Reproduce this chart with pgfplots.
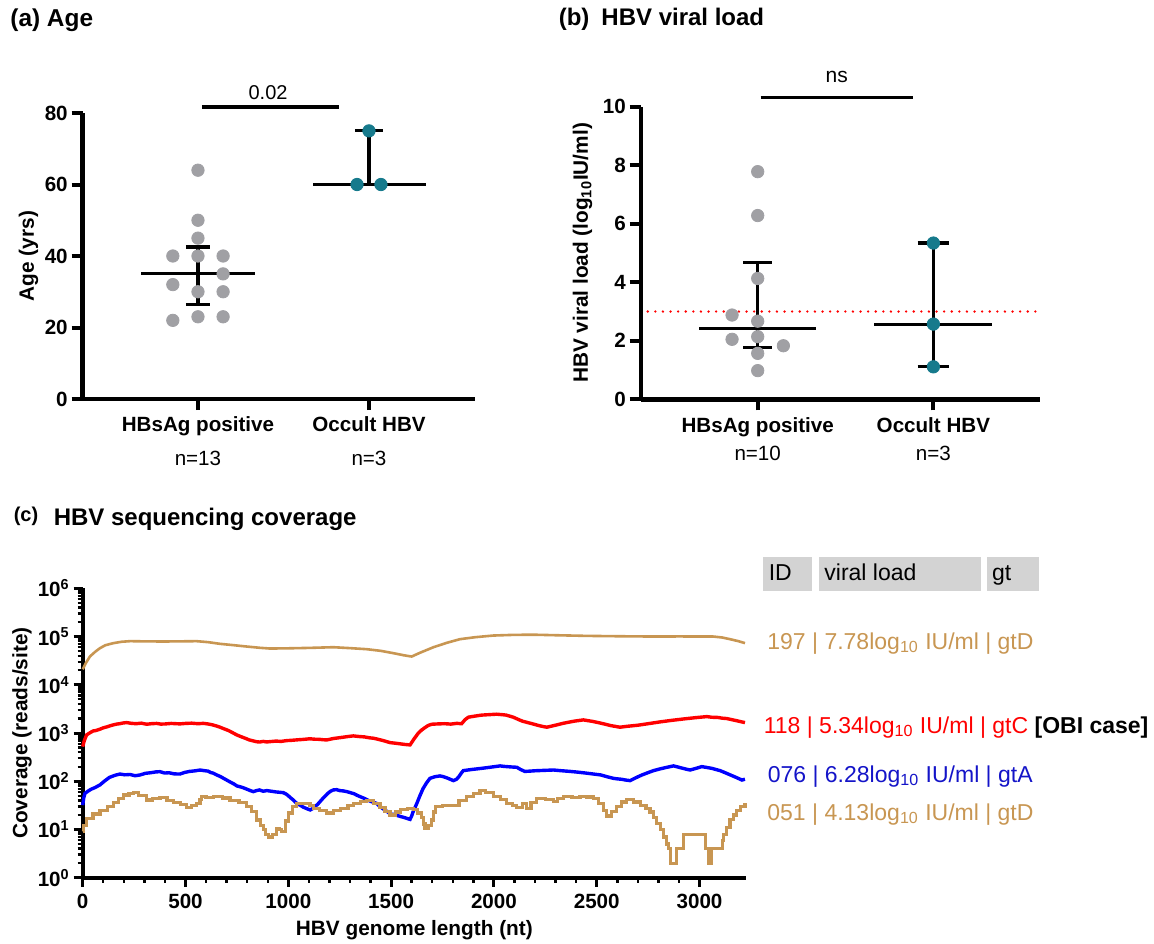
\documentclass[border=0pt]{standalone}
\usepackage{fontspec}
\setmainfont{Liberation Sans}
\usepackage{pgfplots}
\pgfplotsset{compat=1.18}

\definecolor{ctan}{RGB}{200,150,82}
\definecolor{dotgrey}{RGB}{160,160,164}
\definecolor{teal2}{RGB}{22,122,140}
\definecolor{lred}{RGB}{255,0,0}
\definecolor{lblue}{RGB}{0,0,255}
\definecolor{tblue}{RGB}{20,20,200}
\definecolor{boxgrey}{RGB}{211,211,211}

\pgfplotsset{
  gp/.style={
    scale only axis, clip=false,
    axis x line*=bottom, axis y line*=left,
    axis line style={line width=2.2pt,-},
    x axis line style={line width=2.2pt},
    y axis line style={line width=2.2pt},
    tick align=outside, major tick length=5.5pt,
    major tick style={black,line width=2pt},
    tick label style={font=\fontsize{10.3}{12.4}\selectfont\bfseries},
    yticklabel style={inner sep=1.8pt},
    /pgf/number format/assume math mode=true,
    label style={font=\fontsize{10.4}{12.4}\selectfont\bfseries,inner sep=0pt},
    xticklabel style={align=center},
  },
  med/.style={black,line width=1.6pt},
  grp1/.style={only marks,mark=*,mark size=3.1pt,color=dotgrey},
  grp2/.style={only marks,mark=*,mark size=3.1pt,color=teal2},
}

\begin{document}
\begin{tikzpicture}
\path[use as bounding box] (0,0) rectangle (577pt,471.5pt);

% titles
\node[anchor=base west,font=\fontsize{12.2}{14}\selectfont\bfseries,inner sep=0pt] at (5pt,458.2pt) {(a) Age};
\node[anchor=base west,font=\fontsize{12}{14}\selectfont\bfseries,inner sep=0pt] at (279.2pt,458.5pt) {(b)\enspace HBV viral load};
\node[anchor=base west,font=\fontsize{10}{12}\selectfont\bfseries,inner sep=0pt] at (6.7pt,211pt) {(c)};
\node[anchor=base west,font=\fontsize{12}{14}\selectfont\bfseries,inner sep=0pt] at (26.7pt,209pt) {HBV sequencing coverage};

% (a) Age
\begin{axis}[gp,
  at={(41.35pt,272pt)}, anchor=south west,
  width=196.15pt, height=143pt,
  xmin=0.326, xmax=2.62, ymin=0, ymax=80,
  ytick={0,20,40,60,80},
  xtick={1,2},
  xticklabels={{HBsAg positive\\[4.6pt]{\mdseries n=13}},{Occult HBV\\[4.6pt]{\mdseries n=3}}},
  ylabel={Age (yrs)},
  ylabel style={at={(axis description cs:-0.112,0.5)},anchor=south},
]
\addplot[grp1] coordinates {(1,64) (1,50) (1,45) (0.853,40) (1,40) (1.147,40) (1.147,35) (0.853,32) (1,30) (1.147,30) (1,23) (1.147,23) (0.853,22)};
\addplot[grp2] coordinates {(2,75) (1.93,60) (2.07,60)};
\addplot[med] coordinates {(0.667,35) (1.333,35)};
\addplot[med] coordinates {(1,26.5) (1,42.5)};
\addplot[med] coordinates {(0.93,26.5) (1.07,26.5)};
\addplot[med] coordinates {(0.93,42.5) (1.07,42.5)};
\addplot[med] coordinates {(1.673,60) (2.333,60)};
\addplot[med] coordinates {(2,60) (2,75)};
\addplot[med] coordinates {(1.918,75) (2.082,75)};
\addplot[black,line width=1.8pt] coordinates {(1.023,81.6) (1.825,81.6)};
\node[font=\fontsize{10}{12}\selectfont] at (axis cs:1.41,85.6) {0.02};
\end{axis}

% (b) viral load
\begin{axis}[gp,
  at={(320.35pt,271.85pt)}, anchor=south west,
  width=199.65pt, height=146.3pt,
  xmin=0.334, xmax=2.607, ymin=0, ymax=10,
  ytick={0,2,4,6,8,10},
  xtick={1,2},
  xticklabels={{HBsAg positive\\[1.8pt]{\mdseries n=10}},{Occult HBV\\[1.8pt]{\mdseries n=3}}},
  ylabel={HBV viral load (log\textsubscript{10}IU/ml)},
  ylabel style={at={(axis description cs:-0.12,0.5)},anchor=south},
]
\addplot[draw=lred,line width=1.3pt,line cap=round,dash pattern=on 0pt off 3.8pt] coordinates {(0.374,3) (2.607,3)};
\addplot[grp1] coordinates {(1,7.78) (1,6.28) (1,4.13) (0.854,2.88) (1,2.67) (1,2.14) (0.854,2.05) (1.146,1.83) (1,1.57) (1,0.98)};
\addplot[grp2] coordinates {(2,5.34) (2,2.57) (2,1.11)};
\addplot[med] coordinates {(0.667,2.42) (1.332,2.42)};
\addplot[med] coordinates {(1,1.77) (1,4.67)};
\addplot[med] coordinates {(0.918,1.77) (1.082,1.77)};
\addplot[med] coordinates {(0.918,4.67) (1.082,4.67)};
\addplot[med] coordinates {(1.663,2.57) (2.333,2.57)};
\addplot[med] coordinates {(2,1.11) (2,5.34)};
\addplot[med] coordinates {(1.91,1.11) (2.09,1.11)};
\addplot[med] coordinates {(1.91,5.34) (2.09,5.34)};
\addplot[black,line width=1.8pt] coordinates {(1.017,10.32) (1.886,10.32)};
\node[font=\fontsize{10.5}{12}\selectfont] at (axis cs:1.45,11.0) {ns};
\end{axis}

% (c) coverage
\begin{axis}[gp,
  at={(41.35pt,32.65pt)}, anchor=south west,
  width=331.65pt, height=144.7pt,
  axis line style={line width=1.9pt,-},
  x axis line style={line width=1.9pt},
  y axis line style={line width=1.9pt},
  major tick length=4.5pt, minor tick length=2.5pt,
  major tick style={black,line width=1.5pt},
  minor tick style={black,line width=1.2pt},
  xmin=0, xmax=3226, ymode=log, ymin=1, ymax=1000000,
  xtick={0,500,1000,1500,2000,2500,3000},
  xticklabels={0,500,1000,1500,2000,2500,3000},
  minor x tick num=4,
  ytick={1,10,100,1000,10000,100000,1000000},
  yticklabels={10\textsuperscript{0},10\textsuperscript{1},10\textsuperscript{2},10\textsuperscript{3},10\textsuperscript{4},10\textsuperscript{5},10\textsuperscript{6}},
  minor ytick={2,3,4,5,6,7,8,9,20,30,40,50,60,70,80,90,200,300,400,500,600,700,800,900,2000,3000,4000,5000,6000,7000,8000,9000,20000,30000,40000,50000,60000,70000,80000,90000,200000,300000,400000,500000,600000,700000,800000,900000},
  xlabel={HBV genome length (nt)},
  xlabel style={at={(axis description cs:0.5,-0.198)},anchor=base},
  ylabel={Coverage (reads/site)},
  ylabel style={at={(axis description cs:-0.076,0.5)},anchor=south},
]
% 197
\addplot[ctan,line width=1.3pt] coordinates {(0,21000) (15,28000) (35,38500) (60,48000) (84,57400) (110,66000) (149,73000) (190,78000) (230,80200) (300,79500) (392,78900) (470,79500) (554,80200) (610,76500) (668,70600) (730,66500) (797,62100) (860,58500) (911,56400) (1000,57000) (1105,58200) (1219,60100) (1300,57500) (1381,54700) (1450,50500) (1511,45200) (1560,41000) (1600,38500) (1640,46000) (1706,60100) (1770,74000) (1835,88200) (1910,97000) (1997,104900) (2100,108500) (2200,109000) (2300,106500) (2451,103200) (2600,101500) (2776,100000) (2900,100500) (3067,100000) (3110,95500) (3148,88200) (3190,80000) (3221,73000)};
% 118
\addplot[lred,line width=1.7pt] coordinates {(0,522) (8,700) (19,914) (35,1010) (50,1100) (66,1130) (84,1200) (100,1280) (120,1350) (135,1420) (149,1473) (165,1530) (180,1560) (195,1610) (214,1644) (235,1590) (260,1560) (285,1600) (311,1520) (335,1560) (360,1580) (380,1530) (400,1540) (430,1580) (473,1545) (500,1580) (530,1600) (560,1560) (587,1585) (610,1540) (630,1480) (650,1400) (668,1319) (690,1210) (710,1120) (730,1010) (749,914) (770,840) (790,780) (810,720) (830,686) (845,660) (860,650) (878,670) (895,653) (915,665) (940,680) (965,670) (992,696) (1015,705) (1040,720) (1070,735) (1105,760) (1125,745) (1150,740) (1170,725) (1187,719) (1220,770) (1250,800) (1285,840) (1316,871) (1345,845) (1370,830) (1395,795) (1414,780) (1440,735) (1460,700) (1480,660) (1495,632) (1520,615) (1540,600) (1565,580) (1592,566) (1612,760) (1632,991) (1648,1150) (1665,1300) (1680,1430) (1697,1520) (1730,1545) (1760,1560) (1790,1530) (1819,1585) (1843,1560) (1860,1900) (1876,2128) (1910,2250) (1940,2350) (1975,2400) (2013,2455) (2040,2400) (2060,2350) (2094,2128) (2120,1900) (2140,1750) (2176,1600) (2200,1500) (2220,1420) (2240,1360) (2257,1319) (2290,1420) (2340,1600) (2390,1760) (2435,1870) (2480,1740) (2520,1600) (2570,1420) (2613,1319) (2650,1380) (2700,1450) (2750,1560) (2808,1700) (2860,1820) (2920,1950) (2980,2080) (3035,2188) (3060,2120) (3090,2100) (3110,2030) (3132,1995) (3160,1880) (3180,1800) (3200,1720) (3221,1644)};
% 076
\addplot[lblue,line width=1.7pt] coordinates {(0,32) (5,45) (11,56) (25,62) (40,68) (60,74) (84,84) (105,100) (130,120) (155,132) (181,141) (205,136) (230,138) (255,130) (279,135) (305,146) (330,150) (355,156) (376,158) (398,148) (420,150) (445,142) (473,141) (495,152) (520,160) (545,164) (571,171) (590,166) (610,162) (622,152) (635,147) (652,135) (670,125) (685,115) (700,106) (718,96) (735,88) (750,80) (765,77) (782,73) (800,68) (815,64) (830,61) (845,64) (860,66) (878,62) (895,64) (918,62) (940,60) (958,59) (976,58) (990,54) (1000,50) (1012,45) (1024,41) (1037,36) (1050,33) (1062,31) (1073,29) (1090,27) (1106,25.4) (1118,27) (1130,30) (1142,33) (1154,37.7) (1172,46) (1190,55) (1205,62) (1219,66) (1235,67) (1250,64) (1267,63) (1284,61) (1302,58) (1320,55) (1335,51) (1349,48) (1370,44) (1390,40) (1410,37) (1430,34.7) (1445,30) (1460,27) (1478,24) (1495,21) (1512,20.5) (1530,19.5) (1545,18.6) (1560,17.9) (1576,17) (1592,16.2) (1600,19) (1608,24) (1617,29) (1625,34.7) (1640,50) (1655,70) (1672,92) (1689,115) (1712,124) (1738,129) (1755,124) (1770,118) (1787,110) (1803,103) (1818,110) (1830,125) (1840,145) (1851,166) (1895,176) (1940,185) (1985,196) (2030,208) (2050,203) (2070,200) (2090,197) (2111,195) (2130,175) (2150,160) (2175,162) (2200,165) (2245,168) (2289,171) (2330,165) (2370,160) (2410,154) (2451,147) (2485,141) (2520,135) (2550,124) (2581,115) (2600,112) (2620,110) (2640,106) (2662,103) (2690,118) (2720,135) (2748,150) (2776,166) (2803,178) (2830,190) (2850,198) (2873,208) (2897,196) (2920,185) (2937,177) (2954,171) (2983,185) (3011,201) (3035,193) (3060,185) (3080,175) (3100,166) (3125,150) (3150,135) (3178,120) (3206,106) (3221,110)};
% 051
\addplot[ctan,line width=1.6pt,const plot] coordinates {(0,9) (5,12) (19,17) (50,21) (84,25) (120,30) (149,36) (175,44) (198,52) (225,55) (246,59) (270,50) (311,41) (340,44) (376,46) (410,40) (441,36) (475,33) (506,29) (530,31) (554,35) (570,42) (579,48) (600,46) (635,49) (680,45) (716,40) (760,36) (797,30) (820,24) (846,15.7) (865,12) (879,9.8) (890,8) (903,7) (925,8) (944,10.5) (958,10) (968,9) (985,15) (1000,22) (1020,30) (1041,35) (1070,34) (1105,32) (1122,27.5) (1150,25) (1187,22) (1220,25) (1252,27) (1290,31) (1316,35) (1350,38) (1381,40) (1415,35) (1446,29) (1470,24) (1495,20) (1520,23) (1544,26) (1580,27) (1609,26) (1630,22) (1649,18) (1657,13) (1665,10.6) (1680,12) (1697,15.7) (1706,23) (1714,30) (1750,31) (1787,32) (1830,40) (1868,48) (1900,55) (1932,64) (1960,58) (1997,48) (2030,42) (2062,35) (2090,31) (2111,29) (2140,35) (2159,27) (2180,36) (2208,44) (2250,42) (2289,38) (2310,44) (2338,48) (2380,46) (2419,49) (2450,47) (2484,44) (2510,35) (2532,25) (2549,19) (2570,24) (2597,30) (2620,37) (2646,42) (2680,37) (2711,32) (2740,27) (2759,23) (2775,18) (2792,13.5) (2810,10) (2824,7) (2840,5) (2849,4) (2857,2) (2889,4) (2922,8) (3027,4) (3043,2) (3059,4) (3100,4) (3110,6) (3116,8) (3130,11) (3148,16) (3165,20) (3181,25) (3200,30) (3221,35)};
\end{axis}

% legend of (c)
\fill[boxgrey] (381.7pt,176.15pt) rectangle (405.8pt,193.15pt);
\fill[boxgrey] (409.7pt,176.15pt) rectangle (490.7pt,193.15pt);
\fill[boxgrey] (493.7pt,176.15pt) rectangle (519.7pt,193.15pt);
\begin{scope}[every node/.style={anchor=base west,inner sep=0pt,font=\fontsize{11.5}{13}\selectfont}]
\node at (384.2pt,181.2pt) {ID};
\node at (412pt,181.2pt) {viral load};
\node at (495.8pt,181.2pt) {gt};
\node[text=ctan] at (383.5pt,146.85pt) {197 | 7.78log\textsubscript{10} IU/ml | gtD};
\node[text=lred] at (381.7pt,104.85pt) {118 | 5.34log\textsubscript{10} IU/ml | gtC \textcolor{black}{\bfseries [OBI case]}};
\node[text=tblue] at (383.7pt,80.35pt) {076 | 6.28log\textsubscript{10} IU/ml | gtA};
\node[text=ctan] at (383.5pt,61.5pt) {051 | 4.13log\textsubscript{10} IU/ml | gtD};
\end{scope}
\end{tikzpicture}
\end{document}
